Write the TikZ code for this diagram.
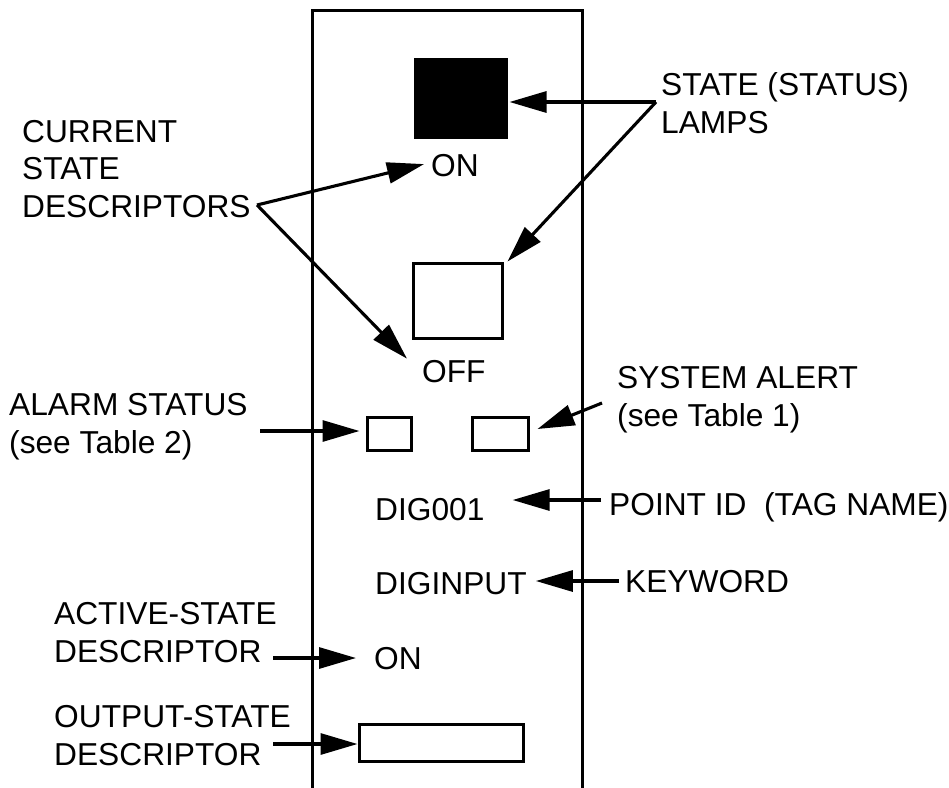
\documentclass[tikz,border=0pt]{standalone}
\usepackage{fontspec}
\setmainfont{Liberation Sans}
\usetikzlibrary{arrows.meta,calc}
\begin{document}
\begin{tikzpicture}[x=1pt,y=-1pt,
  lbl/.style={inner sep=0pt, anchor=base west, align=left, font=\fontsize{31.7}{37.5}\selectfont},
  arr/.style={line width=3.1pt, -{Triangle[length=37pt,width=21pt]}},
  lampbox/.style={draw, line width=3pt, inner sep=0pt, fill=white},
  ]
\useasboundingbox (0,0) rectangle (949,787);
% panel
\draw[line width=3pt] (312,800) -- (312,10) -- (582,10) -- (582,800);

% lamps and boxes
\node[lampbox, fill=black, minimum width=91pt, minimum height=78pt] (lampOn) at (460.5,98) {};
\node[lampbox, minimum width=89pt, minimum height=75pt] (lampOff) at (457.5,300.5) {};
\node[lampbox, minimum width=44pt, minimum height=33pt] (alarmBox) at (389,433.5) {};
\node[lampbox, minimum width=56pt, minimum height=33pt] (alertBox) at (500,433.5) {};
\node[lampbox, minimum width=164pt, minimum height=37pt] (outBox) at (441,742.5) {};

% panel texts (base anchor = baseline of last line)
\node[lbl] (onTop) at (431,176) {ON};
\node[lbl] (offText) at (422,382) {OFF};
\node[lbl] (dig001) at (375,520) {DIG001};
\node[lbl] (diginput) at (375,594) {DIGINPUT};
\node[lbl] (onAct) at (374,669.5) {ON};

% labels
\node[lbl] (csdLbl) at (22,217) {CURRENT\\STATE\\DESCRIPTORS};
\node[lbl] (lampsLbl) at (661,133) {STATE (STATUS)\\LAMPS};
\node[lbl] (alarmLbl) at (9,453) {ALARM STATUS\\(see Table 2)};
\node[lbl] (alertLbl) at (617,426) {SYSTEM ALERT\\(see Table 1)};
\node[lbl] (pointLbl) at (609,515) {POINT ID\ \ (TAG NAME)};
\node[lbl] (kwLbl) at (625,592) {KEYWORD};
\node[lbl] (asdLbl) at (54,662) {ACTIVE-STATE\\DESCRIPTOR};
\node[lbl] (osdLbl) at (54,765) {OUTPUT-STATE\\DESCRIPTOR};

% connector origins
\coordinate (csd) at (257,205);
\coordinate (sl) at (656,102);
\coordinate (al) at (260,431);
\coordinate (sa) at (602,403);
\coordinate (pid) at (601,500);
\coordinate (kw) at (619,581);
\coordinate (asd) at (273,658);
\coordinate (osd) at (273,744);

% connectors
\draw[arr] (csd) -- ($(onTop.west)+(-7,-1)$);
\draw[arr] (csd) -- ($(offText.north west)+(-15,-1)$);
\draw[arr] (sl) -- ($(lampOn.east |- sl)+(2,0)$);
\draw[arr] (sl) -- ($(lampOff.north east)+(4,0)$);
\draw[arr] (al) -- ($(alarmBox.west |- al)+(-6,0)$);
\draw[arr] (sa) -- ($(alertBox.east)+(8,-4.5)$);
\draw[arr] (pid) -- ($(dig001.east |- pid)+(28,0)$);
\draw[arr] (kw) -- ($(diginput.east |- kw)+(9,0)$);
\draw[arr] (asd) -- ($(onAct.west |- asd)+(-18,0)$);
\draw[arr] (osd) -- (outBox.west |- osd);
\end{tikzpicture}
\end{document}
